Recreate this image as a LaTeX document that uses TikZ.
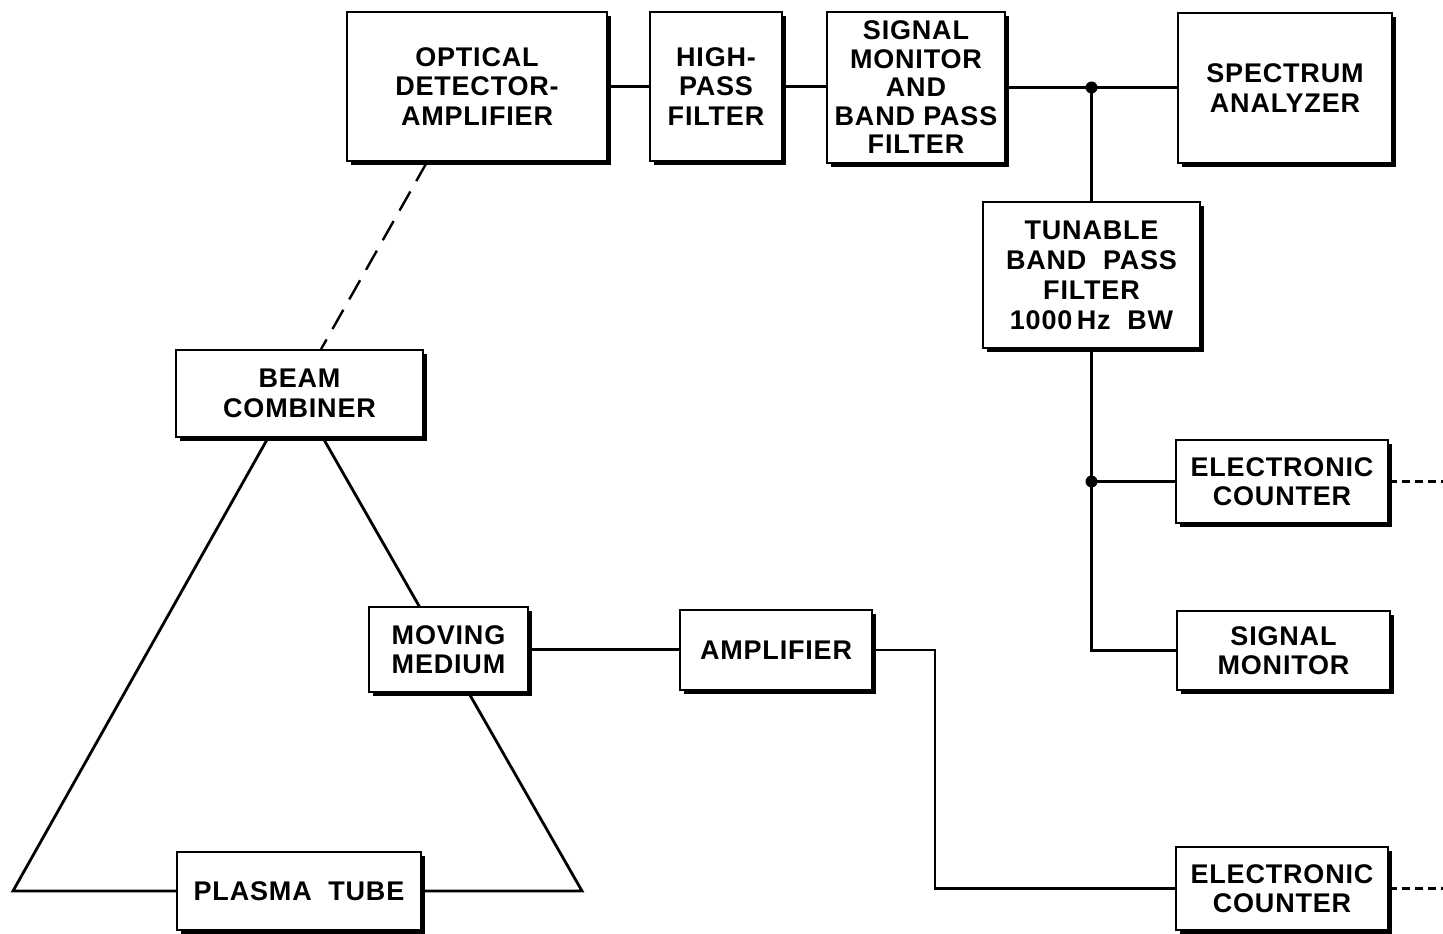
\documentclass[tikz,border=0pt]{standalone}
\usepackage{fontspec}
\setmainfont{Liberation Sans}[LetterSpace=3]
\usetikzlibrary{shadows,calc}
\pgfdeclarelayer{background}
\pgfsetlayers{background,main}
\begin{document}
\begin{tikzpicture}[x=1pt,y=-1pt,
  box/.style={draw, line width=1.8pt, fill=white, inner sep=0pt, align=center,
    font=\fontsize{27}{29.5}\selectfont\bfseries,
    drop shadow={shadow xshift=4pt, shadow yshift=-4pt, fill=black, opacity=1}},
  wire/.style={line width=2.8pt},
  dwire/.style={line width=2.6pt, dash pattern=on 8pt off 5pt},
  lwire/.style={line width=2.4pt, dash pattern=on 22pt off 12pt},
  dot/.style={circle, fill=black, inner sep=0pt, minimum size=12pt}]
\useasboundingbox (0,0) rectangle (1443,934);
\begin{pgfonlayer}{background}
\fill[white] (0,0) rectangle (1443,934);
\end{pgfonlayer}

\node[box, minimum width=260, minimum height=149] (opt) at (477,86.5) {OPTICAL\\DETECTOR-\\AMPLIFIER};
\node[box, minimum width=132, minimum height=149] (hpf) at (716,86.5) {HIGH-\\PASS\\FILTER};
\node[box, minimum width=178, minimum height=151, font=\fontsize{27}{28.5}\selectfont\bfseries] (smf) at (916,87.5) {SIGNAL\\MONITOR\\AND\\BAND PASS\\FILTER};
\node[box, minimum width=214, minimum height=150] (spec) at (1285,88) {SPECTRUM\\ANALYZER};
\node[box, minimum width=217, minimum height=146, font=\fontsize{27}{30}\selectfont\bfseries] (tbpf) at (1091.5,275) {TUNABLE\\BAND\ \ PASS\\FILTER\\1000\,Hz\ \ BW};
\node[box, minimum width=212, minimum height=83] (ec1) at (1282,481.5) {ELECTRONIC\\COUNTER};
\node[box, minimum width=213, minimum height=79] (sm) at (1283.5,650.5) {SIGNAL\\MONITOR};
\node[box, minimum width=247, minimum height=87] (bc) at (299.5,393.5) {BEAM\\COMBINER};
\node[box, minimum width=159, minimum height=85] (mm) at (448.5,649.5) {MOVING\\MEDIUM};
\node[box, minimum width=192, minimum height=80] (amp) at (776,650) {AMPLIFIER};
\node[box, minimum width=244, minimum height=78] (pt) at (299,891) {PLASMA\ \ TUBE};
\node[box, minimum width=212, minimum height=83] (ec2) at (1282,888.5) {ELECTRONIC\\COUNTER};

% top chain
\draw[wire] (opt.east) -- (hpf.west);
\draw[wire] (hpf.east) -- (smf.west |- hpf.east);
\coordinate (j1) at (tbpf.north |- smf.east);
\draw[wire] (smf.east) -- (spec.west |- smf.east);
\draw[wire] (j1) -- (tbpf.north);
\node[dot] at (j1) {};
% tunable filter outputs
\coordinate (j2) at (tbpf.south |- ec1.west);
\draw[wire] (tbpf.south) -- (tbpf.south |- sm.west) -- (sm.west);
\draw[wire] (j2) -- (ec1.west);
\node[dot] at (j2) {};
\coordinate (e1) at (1443,481.5);
\draw[dwire] (ec1.east) -- (e1);
\coordinate (e2) at (1443,888.5);
\draw[dwire] (ec2.east) -- (e2);

% optical path
\draw[lwire] ($(opt.south west)+(81,0)$) -- ($(bc.north west)+(146,0)$);
\coordinate (la) at (13,891);
\coordinate (ra) at (582,891);
\begin{pgfonlayer}{background}
\draw[wire, line join=miter] ($(bc.south)+(-31.5,0)$) -- (la) -- (pt.west);
\draw[wire, line join=miter] ($(bc.south)+(23.5,0)$) -- (ra) -- (pt.east);
\end{pgfonlayer}

% amplifier chain
\draw[wire] (mm.east) -- (amp.west |- mm.east);
\draw[wire] (amp.east) -- (935,650) -- (935,888.5) -- (ec2.west);
\end{tikzpicture}
\end{document}
